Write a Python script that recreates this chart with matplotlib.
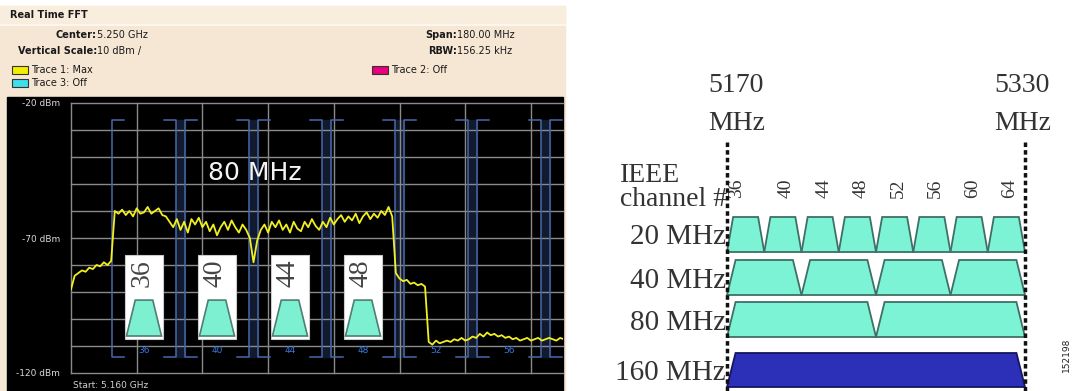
import numpy as np
import matplotlib.pyplot as plt
from matplotlib.patches import Rectangle, Polygon

W, H = 1073, 391

# ========= 左图：Real Time FFT 数据 =========
START_MHZ = 5160
trace_dbm = [
    -89, -84, -83, -82, -82.5, -81, -81.5, -80, -80.5, -79, -80, -78.5,
    -60, -61, -59.5, -61.5, -60, -62, -59, -61, -60.5, -58.5, -61, -60,
    -59, -61.5, -62, -64, -66, -63, -67, -64, -68, -63, -65, -62.5,
    -66, -64, -67.5, -65, -69, -66, -64, -67, -63.5, -66, -68, -65,
    -67, -70, -79, -71, -67, -65, -68, -64, -66, -63.5, -67, -65,
    -68, -64, -66.5, -67.5, -64, -66, -63, -65.5, -67, -64, -66, -62.5,
    -65, -63, -61.5, -64, -62, -63.5, -61, -64.5, -62, -60.5, -63, -61,
    -62.5, -60, -61.5, -58.5, -62,
    -83, -85, -86, -85.5, -87, -86.5, -87.5, -87, -88,
    -108.5, -109.5, -108, -109, -108.5, -108, -108.5, -107.5, -108, -107,
    -108, -107.5, -106.5, -107, -105.5, -106.5, -105, -106, -105.5, -106.5,
    -106, -107, -106.5, -107.5, -107, -108, -107.5, -107, -108, -107.5,
    -107, -108, -107.5, -107, -107.5, -108, -107, -107.5,
]
trace_mhz = START_MHZ + np.arange(len(trace_dbm))

box_channels = [36, 40, 44, 48]
bracket_channels = [36, 40, 44, 48, 52, 56, 60]
db_labels = {-20: "-20 dBm", -70: "-70 dBm", -120: "-120 dBm"}
header_left = [("Center:", "5.250 GHz"), ("Vertical Scale:", "10 dBm /")]
header_right = [("Span:", "180.00 MHz"), ("RBW:", "156.25 kHz")]

# ========= 右图：信道划分 =========
ieee_channels = [36, 40, 44, 48, 52, 56, 60, 64]
band_labels = ["20 MHz", "40 MHz", "80 MHz", "160 MHz"]
band_widths = [20, 40, 80, 160]
edge_mhz = [5170, 5330]


def ch_freq(ch):
    return 5000 + 5 * ch


fig = plt.figure(figsize=(W / 100, H / 100), dpi=100)
fig.patch.set_facecolor("white")


def px_axes(x0, y0, x1, y1):
    return fig.add_axes([x0 / W, 1 - y1 / H, (x1 - x0) / W, (y1 - y0) / H])


# ========= 背景 / 表头 =========
bg = fig.add_axes([0, 0, 1, 1])
bg.set_xlim(0, W)
bg.set_ylim(H, 0)
bg.axis("off")
bg.add_patch(Rectangle((0, 6), 565, 385, color="#f6e7d4", zorder=0))
bg.add_patch(Rectangle((0, 6), 565, 18, color="#f9eede", zorder=0))
bg.plot([0, 565], [25, 25], color="#fdf6ee", lw=1.5)
bg.add_patch(Rectangle((7, 97), 556, 294, color="black", zorder=0))

hfont = dict(fontsize=7, family="DejaVu Sans", color="#1a1a1a", va="center")
bg.text(10, 15, "Real Time FFT", weight="bold", **hfont)
for (lab, val), y in zip(header_left, [35, 51]):
    bg.text(97, y, lab, ha="right", weight="bold", **hfont)
    bg.text(97, y, val, ha="left", **hfont)
for (lab, val), y in zip(header_right, [35, 51]):
    bg.text(457, y, lab, ha="right", weight="bold", **hfont)
    bg.text(457, y, val, ha="left", **hfont)

for x, y, col, lab in [(12, 66, "#f2ee00", "Trace 1: Max"),
                       (12, 79, "#3ee0ea", "Trace 3: Off"),
                       (372, 66, "#e8007c", "Trace 2: Off")]:
    bg.add_patch(Rectangle((x, y), 16, 8, facecolor=col, edgecolor="#333333", lw=0.8))
    bg.text(x + 19, y + 4, lab, ha="left", **hfont)

bg.text(1066, 355, "152198", rotation=90, fontsize=6.5, color="#222222",
        ha="center", va="center")

# ========= 频谱 =========
sp = px_axes(71, 103, 563, 373)
sp.set_facecolor("none")
sp.set_xlim(START_MHZ, START_MHZ + 492 / 3.65)
sp.set_ylim(-120, -20)
for s in sp.spines.values():
    s.set_visible(False)
sp.set_xticks(np.arange(START_MHZ, 5300, 18))
sp.set_yticks(np.arange(-120, -19, 10))
sp.set_xticklabels([])
sp.set_yticklabels([db_labels.get(int(v), "") for v in sp.get_yticks()])
sp.tick_params(length=0, labelsize=6.5, labelcolor="#d8d8d8", pad=8)
sp.grid(True, color="#8a8a8a", lw=1)
for gl in sp.get_xgridlines() + sp.get_ygridlines():
    gl.set_clip_on(False)

top, bot, serif = -26.3, -114, 3.3
for i, ch in enumerate(bracket_channels):
    f = ch_freq(ch)
    l, r = f - 8.9, f + 8.9
    kw = dict(color="#4868aa", lw=1.1, zorder=2)
    sp.plot([l + serif, l, l, l + serif], [top, top, bot, bot], **kw)
    sp.plot([r - serif, r, r, r - serif], [top, top, bot, bot], **kw)
    if i < len(bracket_channels) - 1:
        sp.add_patch(Rectangle((r, top), 2.2, bot - top, color="#111a2e", zorder=1))
    if f < 5290:
        sp.text(f, -111.5, str(ch), color="#3a78e0", fontsize=6.5,
                ha="center", va="center", zorder=3)

sp.plot(trace_mhz, trace_dbm, color="#f2f01e", lw=1.3, zorder=5)

for ch in box_channels:
    f = ch_freq(ch)
    sp.add_patch(Rectangle((f - 5.1, -107.3), 10.2, 31, facecolor="white",
                           edgecolor="#cccccc", lw=0.8, zorder=6))
    sp.add_patch(Polygon([(f - 4.8, -106.3), (f - 2.4, -93), (f + 2.4, -93), (f + 4.8, -106.3)],
                         closed=True, facecolor="#7ef0d2", edgecolor="#4d7f72", lw=1.2, zorder=7))
    sp.text(f - 0.6, -83, str(ch), rotation=90, fontsize=20, family="Liberation Serif",
            color="#444444", ha="center", va="center", zorder=8)

sp.text(5210.4, -46, "80 MHz", color="#f4f4f4", fontsize=18, ha="center", va="center")
sp.text(START_MHZ + 0.5, -124.5, "Start: 5.160 GHz", color="#d0d0d0", fontsize=6.5,
        ha="left", va="center", clip_on=False)

# ========= 右侧信道图 =========
px_per_mhz = (1025 - 727) / 160
rp = px_axes(580, 0, 1073, 391)
rp.set_xlim(5170 - (727 - 580) / px_per_mhz, 5330 + (1073 - 1025) / px_per_mhz)
rp.set_ylim(391, 0)
rp.axis("off")

sfont = dict(family="Liberation Serif", color="#333333")
for f, dx in zip(edge_mhz, [5, -1.5]):
    rp.text(f + dx, 86, str(f), fontsize=20, ha="center", va="center", **sfont)
    rp.text(f + dx, 123, "MHz", fontsize=20, ha="center", va="center", **sfont)
    rp.plot([f, f], [142, 391], color="#111111", lw=2.5, ls=(0, (1.3, 0.9)), zorder=5)

x_text = 5170 - (727 - 620) / px_per_mhz
rp.text(x_text, 175, "IEEE", fontsize=20, ha="left", va="center", **sfont)
rp.text(x_text, 199, "channel #", fontsize=20, ha="left", va="center", **sfont)

for ch in ieee_channels:
    dx = -5 if ch == 36 else 2
    rp.text(ch_freq(ch) + dx, 188, str(ch), rotation=90, fontsize=14,
            ha="center", va="center", **sfont)

row_y = [(217, 252), (260, 295), (302, 337), (353, 387)]
for lab, w, (yt, yb) in zip(band_labels, band_widths, row_y):
    inset = 3.3 if w == 20 else 4.6
    if w == 160:
        fc, ec = "#2c2fb8", "#151560"
    else:
        fc, ec = "#7df3d6", "#3f6f66"
    for s in range(edge_mhz[0], edge_mhz[1], w):
        rp.add_patch(Polygon([(s, yb), (s + inset, yt), (s + w - inset, yt), (s + w, yb)],
                             closed=True, facecolor=fc, edgecolor=ec, lw=1.3, zorder=3))
    rp.text(5170 - 1 / px_per_mhz, (yt + yb) / 2 + 3, lab, fontsize=21,
            ha="right", va="center", **sfont)

fig.savefig("out.png", dpi=100)
